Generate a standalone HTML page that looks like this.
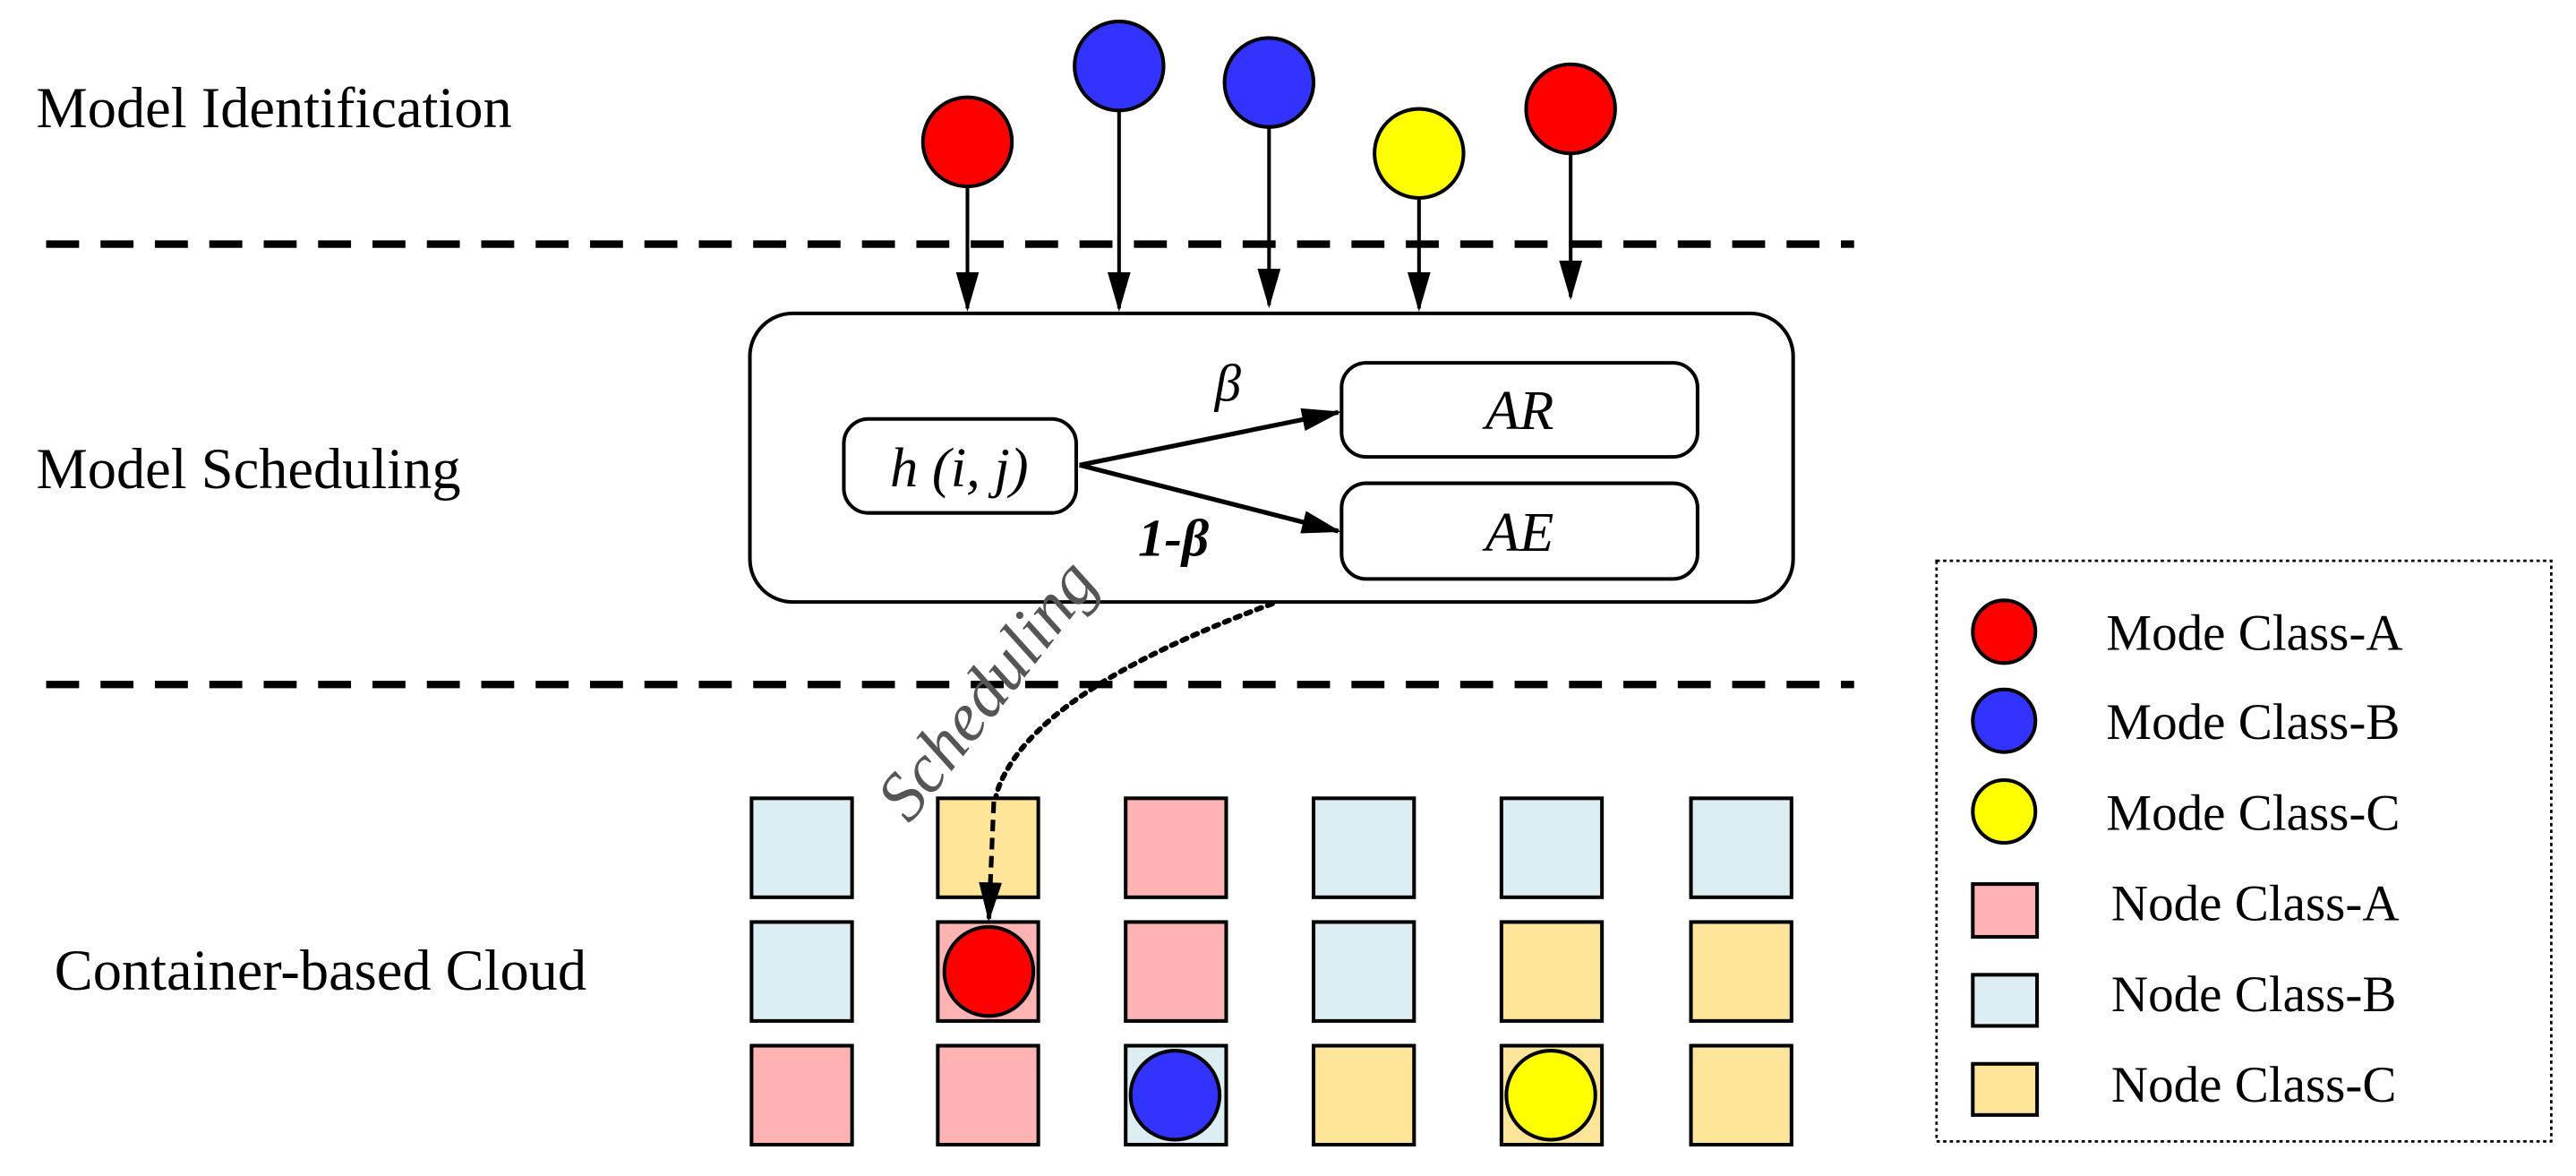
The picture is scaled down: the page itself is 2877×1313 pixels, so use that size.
<!DOCTYPE html>
<html><head><style>html,body{margin:0;padding:0;background:#fff}svg{display:block}svg text{font-family:"Liberation Serif","Times New Roman",Times,serif}</style></head>
<body>
<svg width="2877" height="1313" viewBox="0 0 1563 713" preserveAspectRatio="none" xmlns="http://www.w3.org/2000/svg">
<defs>
<marker id="ah2" markerWidth="24" markerHeight="24" refX="22" refY="12" orient="auto" markerUnits="userSpaceOnUse" viewBox="0 0 24 24"><path d="M0,5 L24,12 L0,19 z" fill="#000"/></marker>
</defs>
<text x="22" y="77" font-size="35">Model Identification</text>
<text x="22" y="296" font-size="35">Model Scheduling</text>
<text x="33" y="600" font-size="35">Container-based Cloud</text>
<line x1="28" y1="148" x2="1125" y2="148" stroke="#000" stroke-width="4.5" stroke-dasharray="20,13"/>
<line x1="28" y1="415" x2="1125" y2="415" stroke="#000" stroke-width="4.5" stroke-dasharray="20,13"/>
<g stroke="#000" stroke-width="2.2">
<line x1="587" y1="113" x2="587" y2="187" marker-end="url(#ah2)"/>
<line x1="679" y1="67" x2="679" y2="187" marker-end="url(#ah2)"/>
<line x1="770" y1="77" x2="770" y2="185" marker-end="url(#ah2)"/>
<line x1="861" y1="120" x2="861" y2="187" marker-end="url(#ah2)"/>
<line x1="953" y1="93" x2="953" y2="180" marker-end="url(#ah2)"/>
<circle cx="587" cy="86" r="27" fill="#ff0000"/>
<circle cx="679" cy="40" r="27" fill="#3333ff"/>
<circle cx="770" cy="50" r="27" fill="#3333ff"/>
<circle cx="861" cy="93" r="27" fill="#ffff00"/>
<circle cx="953" cy="66" r="27" fill="#ff0000"/>
</g>
<rect x="455" y="190" width="633" height="175" rx="26" fill="none" stroke="#000" stroke-width="2.2"/>
<rect x="512" y="254" width="141" height="57" rx="15" fill="none" stroke="#000" stroke-width="2.2"/>
<rect x="814" y="220" width="216" height="57" rx="15" fill="none" stroke="#000" stroke-width="2.2"/>
<rect x="814" y="293" width="216" height="58" rx="15" fill="none" stroke="#000" stroke-width="2.2"/>
<text x="582" y="295" font-size="34" font-style="italic" text-anchor="middle">h (i, j)</text>
<text x="922" y="260" font-size="34" font-style="italic" text-anchor="middle">AR</text>
<text x="922" y="334" font-size="34" font-style="italic" text-anchor="middle">AE</text>
<g stroke="#000" stroke-width="2.8">
<line x1="655" y1="282" x2="812" y2="250" marker-end="url(#ah2)"/>
<line x1="655" y1="282" x2="812" y2="322" marker-end="url(#ah2)"/>
</g>
<text x="745" y="243" font-size="32" font-style="italic" text-anchor="middle">β</text>
<text x="712" y="337" font-size="32" font-style="italic" font-weight="bold" text-anchor="middle">1-β</text>
<path d="M772,366 Q625,420 605,480 Q603,488 603,492" fill="none" stroke="#000" stroke-width="3.2" stroke-dasharray="3,4" stroke-linecap="round"/>
<g stroke="#000" stroke-width="2.2">
<rect x="456" y="484" width="61" height="60" fill="#dceef2"/>
<rect x="569" y="484" width="61" height="60" fill="#ffe599"/>
<rect x="683" y="484" width="61" height="60" fill="#ffb3b3"/>
<rect x="797" y="484" width="61" height="60" fill="#dceef2"/>
<rect x="911" y="484" width="61" height="60" fill="#dceef2"/>
<rect x="1026" y="484" width="61" height="60" fill="#dceef2"/>
<rect x="456" y="559" width="61" height="60" fill="#dceef2"/>
<rect x="569" y="559" width="61" height="60" fill="#ffb3b3"/>
<rect x="683" y="559" width="61" height="60" fill="#ffb3b3"/>
<rect x="797" y="559" width="61" height="60" fill="#dceef2"/>
<rect x="911" y="559" width="61" height="60" fill="#ffe599"/>
<rect x="1026" y="559" width="61" height="60" fill="#ffe599"/>
<rect x="456" y="634" width="61" height="60" fill="#ffb3b3"/>
<rect x="569" y="634" width="61" height="60" fill="#ffb3b3"/>
<rect x="683" y="634" width="61" height="60" fill="#dceef2"/>
<rect x="797" y="634" width="61" height="60" fill="#ffe599"/>
<rect x="911" y="634" width="61" height="60" fill="#ffe599"/>
<rect x="1026" y="634" width="61" height="60" fill="#ffe599"/>
</g>
<line x1="603" y1="486" x2="600" y2="557" stroke="#000" stroke-width="2.8" stroke-dasharray="7,4" marker-end="url(#ah2)"/>
<g stroke="#000" stroke-width="2.2">
<circle cx="600" cy="589" r="27" fill="#ff0000"/>
<circle cx="713" cy="664" r="27" fill="#3333ff"/>
<circle cx="941" cy="664" r="27" fill="#ffff00"/>
</g>
<text transform="translate(552,500) rotate(-52)" font-size="42" font-style="italic" fill="#555">Scheduling</text>
<rect x="1175" y="340" width="373" height="352" fill="none" stroke="#000" stroke-width="1.5" stroke-dasharray="2,2"/>
<g stroke="#000" stroke-width="2.2">
<circle cx="1216" cy="383" r="19" fill="#ff0000"/>
<circle cx="1216" cy="437" r="19" fill="#3333ff"/>
<circle cx="1216" cy="492" r="19" fill="#ffff00"/>
<rect x="1197" y="536" width="39" height="32" fill="#ffb3b3"/>
<rect x="1197" y="591" width="39" height="31" fill="#dceef2"/>
<rect x="1197" y="645" width="39" height="31" fill="#ffe599"/>
</g>
<g font-size="31">
<text x="1278" y="394">Mode Class-A</text>
<text x="1278" y="448">Mode Class-B</text>
<text x="1278" y="503">Mode Class-C</text>
<text x="1281" y="558">Node Class-A</text>
<text x="1281" y="613">Node Class-B</text>
<text x="1281" y="668">Node Class-C</text>
</g>
</svg>
</body></html>
